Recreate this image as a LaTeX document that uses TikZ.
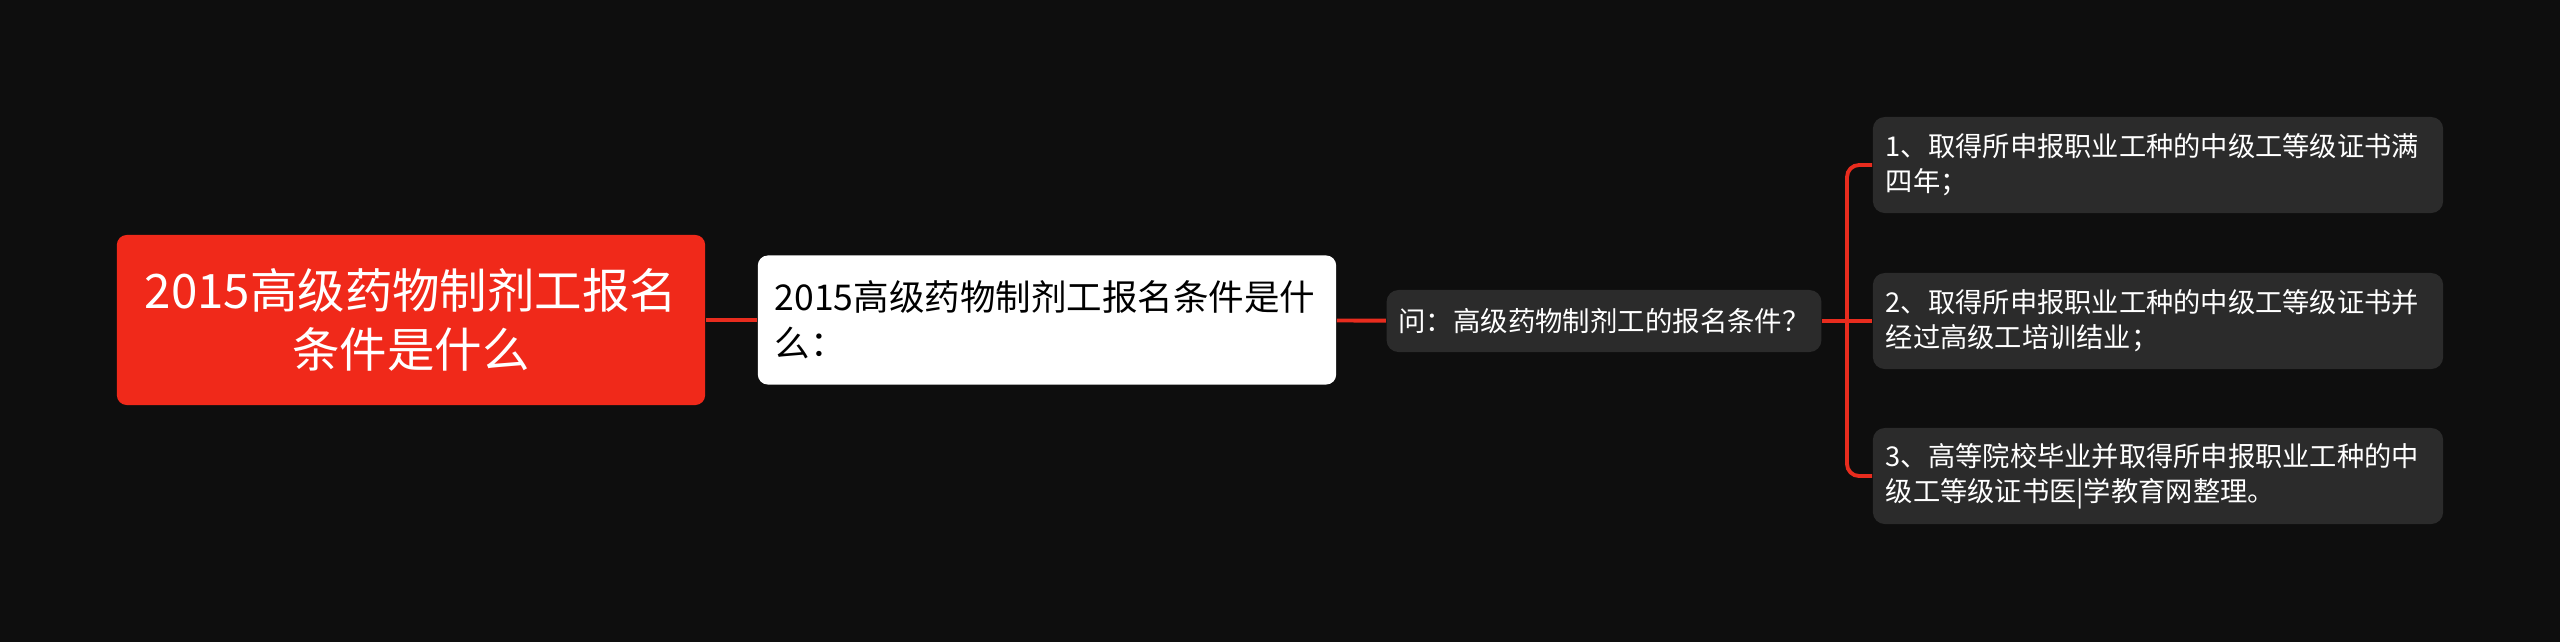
\documentclass[tikz,border=0pt]{standalone}
\usepackage{fontspec}
\setmainfont{Noto Sans CJK SC}
\definecolor{bgdark}{RGB}{14,14,14}
\definecolor{rootred}{RGB}{240,41,26}
\definecolor{linkred}{RGB}{232,44,30}
\definecolor{boxgrey}{RGB}{43,43,43}
\begin{document}
\begin{tikzpicture}[x=0.01cm,y=-0.01cm]
\tikzstyle{link} = [draw=linkred, line width=1.1pt]
\tikzstyle{root} = [rectangle, rounded corners=0.1cm, fill=rootred, text=white, align=center, minimum width=5.88cm, minimum height=1.7cm, font=\fontsize{13.5pt}{16.8pt}\selectfont]
\tikzstyle{sub} = [rectangle, rounded corners=0.1cm, fill=white, text=black, align=left, text width=5.44cm, minimum height=1.29cm, inner xsep=0.17cm, font=\fontsize{10.1pt}{13.1pt}\selectfont]
\tikzstyle{ask} = [rectangle, rounded corners=0.12cm, fill=boxgrey, text=white, align=center, minimum width=4.34cm, minimum height=0.62cm, font=\fontsize{7.8pt}{9pt}\selectfont]
\tikzstyle{leaf} = [rectangle, rounded corners=0.12cm, fill=boxgrey, text=white, align=left, text width=5.44cm, minimum height=0.96cm, inner xsep=0.13cm, font=\fontsize{7.75pt}{10pt}\selectfont]
\useasboundingbox (0,0) rectangle (2560,641);
\fill[bgdark] (-10,-10) rectangle (2570,651);

\node[root] (title) at (411,320) {2015高级药物制剂工报名\\条件是什么};
\node[sub] (what) at (1047,320) {2015高级药物制剂工报名条件是什\\么：}
	edge[link] (title);
\node[ask] (q) at (1604,321) {问：高级药物制剂工的报名条件？}
	edge[link] (what);

\coordinate (fork) at (1847,321);
\node[leaf] (c1) at (2158,165) {1、取得所申报职业工种的中级工等级证书满\\四年；};
\node[leaf] (c2) at (2158,321) {2、取得所申报职业工种的中级工等级证书并\\经过高级工培训结业；};
\node[leaf] (c3) at (2158,476) {3、高等院校毕业并取得所申报职业工种的中\\级工等级证书医|学教育网整理。};
\draw[link] (q.east) -- (fork) -- (c2.west);
\draw[link, rounded corners=0.12cm] (c1.west) -| (fork) |- (c3.west);
\end{tikzpicture}
\end{document}
